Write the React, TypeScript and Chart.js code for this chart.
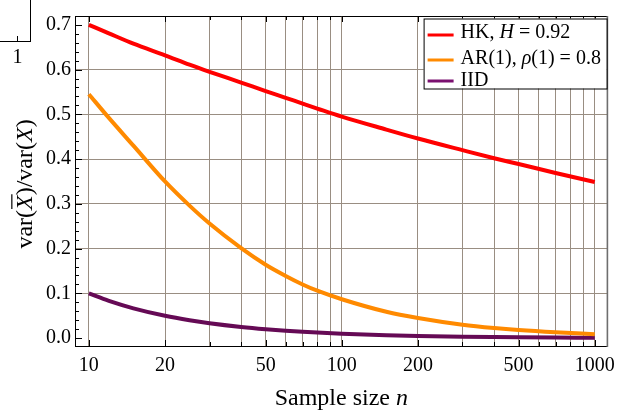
import React, { useEffect, useRef } from "react";
import { Chart, registerables } from "chart.js";

Chart.register(...registerables);

// ---------- data ----------
const sampleSizes = [10, 12, 15, 20, 25, 30, 40, 50, 60, 70, 80, 100, 150, 200, 300, 400, 500, 700, 1000];
const hkValues = [0.700, 0.681, 0.658, 0.632, 0.611, 0.595, 0.571, 0.552, 0.537, 0.524, 0.513, 0.495, 0.466, 0.446, 0.420, 0.402, 0.389, 0.369, 0.349];
const arValues = [0.545, 0.492, 0.430, 0.350, 0.296, 0.256, 0.201, 0.164, 0.139, 0.120, 0.106, 0.087, 0.059, 0.045, 0.030, 0.0225, 0.018, 0.013, 0.009];
const iidValues = [0.100, 0.0833, 0.0667, 0.050, 0.040, 0.0333, 0.025, 0.020, 0.0167, 0.0143, 0.0125, 0.010, 0.0067, 0.005, 0.0033, 0.0025, 0.002, 0.0014, 0.001];

const xGridValues = [10, 20, 30, 40, 50, 60, 70, 80, 90, 100, 200, 300, 400, 500, 600, 700, 800, 900, 1000];
const xTickLabels = [10, 20, 50, 100, 200, 500, 1000];
const yTickValues = [0, 0.1, 0.2, 0.3, 0.4, 0.5, 0.6, 0.7];
const yMinorStep = 0.02;

const xMin = 8.815;
const xMax = 1124;
const yMin = -0.0175;
const yMax = 0.7197;

type Seg = { t: string; i?: boolean; over?: boolean };
const seriesNames: Seg[][] = [
  [{ t: "HK, " }, { t: "H", i: true }, { t: " = 0.92" }],
  [{ t: "AR(1), " }, { t: "ρ", i: true }, { t: "(1) = 0.8" }],
  [{ t: "IID" }],
];
const seriesColors = ["#ff0000", "#ff8a00", "#650a55"];
const legendColors = ["#ff0000", "#ff8a00", "#7a1070"];
const xTitle: Seg[] = [{ t: "Sample size " }, { t: "n", i: true }];
const yTitle: Seg[] = [
  { t: "var(" },
  { t: "X", i: true, over: true },
  { t: ")/var(" },
  { t: "X", i: true },
  { t: ")" },
];

const SERIF = '"Liberation Serif", "Times New Roman", serif';
const GRID = "#998e82";

function fontFor(size: number, italic?: boolean) {
  return `${italic ? "italic " : ""}${size}px ${SERIF}`;
}

function segWidth(ctx: CanvasRenderingContext2D, segs: Seg[], size: number) {
  let w = 0;
  for (const s of segs) {
    ctx.font = fontFor(size, s.i);
    w += ctx.measureText(s.t).width;
  }
  return w;
}

// draws rich text, x is the start, y the baseline
function drawSegs(ctx: CanvasRenderingContext2D, segs: Seg[], x: number, y: number, size: number) {
  let cx = x;
  ctx.textBaseline = "alphabetic";
  ctx.textAlign = "left";
  for (const s of segs) {
    ctx.font = fontFor(size, s.i);
    const w = ctx.measureText(s.t).width;
    ctx.fillText(s.t, cx, y);
    if (s.over) {
      ctx.save();
      ctx.lineWidth = 1.2;
      ctx.beginPath();
      ctx.moveTo(cx + 1, y - size * 0.84);
      ctx.lineTo(cx + w + 1, y - size * 0.84);
      ctx.stroke();
      ctx.restore();
    }
    cx += w;
  }
}

function line(ctx: CanvasRenderingContext2D, x1: number, y1: number, x2: number, y2: number) {
  ctx.beginPath();
  ctx.moveTo(x1, y1);
  ctx.lineTo(x2, y2);
  ctx.stroke();
}

const decorPlugin = {
  id: "decor",
  afterDraw(chart: any) {
    const ctx: CanvasRenderingContext2D = chart.ctx;
    const { left, right, top, bottom } = chart.chartArea;
    const xs = chart.scales.x;
    const ys = chart.scales.y;
    ctx.save();
    ctx.fillStyle = "#000";
    ctx.strokeStyle = "#000";
    ctx.lineWidth = 1;

    // frame
    line(ctx, left + 0.5, top, left + 0.5, bottom + 1);
    line(ctx, left, bottom + 0.5, right, bottom + 0.5);
    line(ctx, left, top + 0.5, right, top + 0.5);
    ctx.strokeStyle = "#6e6e6e";
    ctx.lineWidth = 1.6;
    line(ctx, right - 0.2, top, right - 0.2, bottom + 1);

    // inward ticks
    ctx.strokeStyle = "#000";
    ctx.lineWidth = 1;
    for (const v of xGridValues) {
      const px = Math.round(xs.getPixelForValue(v)) + 0.5;
      const len = xTickLabels.includes(v) ? 6 : 4;
      line(ctx, px, bottom, px, bottom - len);
      line(ctx, px, top, px, top + len);
    }
    const nMinor = Math.round((yTickValues[yTickValues.length - 1] - yTickValues[0]) / yMinorStep);
    for (let k = 0; k <= nMinor; k++) {
      const v = yTickValues[0] + k * yMinorStep;
      const py = Math.round(ys.getPixelForValue(v)) + 0.5;
      const major = k % 5 === 0;
      line(ctx, left, py, left + (major ? 7 : 4), py);
    }

    // legend
    const lgRight = right - 1;
    const lgLeft = lgRight - 183;
    const lgTop = top + 2.5;
    const lgBottom = lgTop + 70;
    ctx.fillStyle = "#fff";
    ctx.fillRect(lgLeft, lgTop, lgRight - lgLeft, lgBottom - lgTop);
    ctx.strokeStyle = "#000";
    ctx.lineWidth = 1;
    ctx.strokeRect(lgLeft + 0.5, lgTop + 0.5, lgRight - lgLeft, lgBottom - lgTop);
    const baselines = [19, 45, 67];
    const lineYs = [16.5, 41.5, 62.5];
    seriesNames.forEach((segs, i) => {
      ctx.strokeStyle = legendColors[i];
      ctx.lineWidth = 3;
      line(ctx, lgLeft + 4, lgTop + lineYs[i], lgLeft + 30, lgTop + lineYs[i]);
      ctx.fillStyle = "#000";
      drawSegs(ctx, segs, lgLeft + 37, lgTop + baselines[i], 20);
    });

    // axis titles
    ctx.fillStyle = "#000";
    ctx.strokeStyle = "#000";
    const xw = segWidth(ctx, xTitle, 24);
    drawSegs(ctx, xTitle, (left + right) / 2 - xw / 2, 405, 24);
    ctx.save();
    ctx.translate(32, (top + bottom) / 2 + 3);
    ctx.rotate(-Math.PI / 2);
    const yw = segWidth(ctx, yTitle, 24);
    drawSegs(ctx, yTitle, -yw / 2, 0, 24);
    ctx.restore();

    // fragment of a neighbouring panel at the top-left corner
    ctx.strokeStyle = "#000";
    ctx.lineWidth = 1;
    line(ctx, 30.5, 0, 30.5, 42);
    line(ctx, 0, 41.5, 31, 41.5);
    line(ctx, 17.5, 41, 17.5, 36);
    ctx.font = fontFor(20);
    ctx.textAlign = "center";
    ctx.textBaseline = "alphabetic";
    ctx.fillText("1", 17.5, 63);
    ctx.restore();
  },
};

export default function App() {
  const ref = useRef<HTMLCanvasElement | null>(null);
  useEffect(() => {
    if (!ref.current) return;
    const mk = (vals: number[]) => sampleSizes.map((n, i) => ({ x: n, y: vals[i] }));
    const chart = new Chart(ref.current, {
      type: "line",
      data: {
        datasets: [hkValues, arValues, iidValues].map((vals, i) => ({
          label: seriesNames[i].map((s) => s.t).join(""),
          data: mk(vals),
          borderColor: seriesColors[i],
          backgroundColor: seriesColors[i],
          borderWidth: 4,
          pointRadius: 0,
          fill: false,
          cubicInterpolationMode: "monotone" as const,
          borderCapStyle: "butt" as const,
        })),
      },
      options: {
        responsive: false,
        animation: false,
        layout: { padding: { top: 9, right: 10, left: 0, bottom: 0 } },
        plugins: { legend: { display: false }, tooltip: { enabled: false } },
        scales: {
          x: {
            type: "logarithmic",
            min: xMin,
            max: xMax,
            afterBuildTicks: (s: any) => {
              s.ticks = xGridValues.map((v) => ({ value: v }));
            },
            afterFit: (s: any) => {
              s.height = 66;
            },
            border: { display: false },
            grid: { color: GRID, lineWidth: 1, drawTicks: false },
            ticks: {
              autoSkip: false,
              maxRotation: 0,
              minRotation: 0,
              padding: 8,
              color: "#000",
              font: { family: SERIF, size: 20 },
              callback: (v: any) => (xTickLabels.includes(Number(v)) ? String(v) : ""),
            },
          },
          y: {
            type: "linear",
            min: yMin,
            max: yMax,
            afterBuildTicks: (s: any) => {
              s.ticks = yTickValues.map((v) => ({ value: v }));
            },
            afterFit: (s: any) => {
              s.width = 75;
            },
            border: { display: false },
            grid: {
              color: (c: any) =>
                c.tick && (c.tick.value === 0 || c.tick.value === 0.7) ? "rgba(0,0,0,0)" : GRID,
              lineWidth: 1,
              drawTicks: false,
            },
            ticks: {
              padding: 4,
              color: "#000",
              font: { family: SERIF, size: 20 },
              callback: (v: any) => Number(v).toFixed(1),
            },
          },
        },
      },
      plugins: [decorPlugin],
    });
    return () => chart.destroy();
  }, []);
  return (
    <div style={{ position: "absolute", left: 0, top: 0, width: 623, height: 412, background: "#fff" }}>
      <canvas ref={ref} width={623} height={412} style={{ display: "block" }} />
    </div>
  );
}
